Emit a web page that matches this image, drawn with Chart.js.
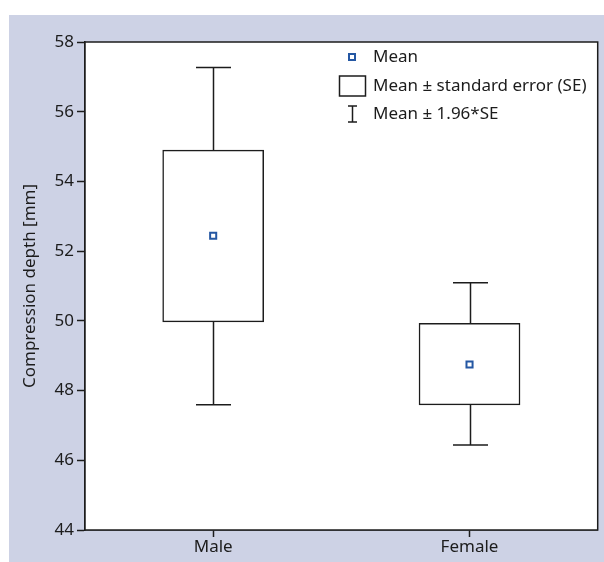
<!DOCTYPE html>
<html>
<head>
<meta charset="utf-8">
<script src="https://cdn.jsdelivr.net/npm/chart.js@4"></script>
<style>
  html, body { margin: 0; padding: 0; background: #ffffff; }
  #wrap {
    position: absolute; left: 9px; top: 15px;
    width: 595px; height: 547px;
    background: #cdd2e5;
  }
</style>
</head>
<body>
<div id="wrap"><canvas id="chart" width="595" height="547"></canvas></div>
<script>
// groups and summary values
const categories = ['Male', 'Female'];
const means = [52.44, 48.75];
const seLow = [49.97, 47.59];
const seHigh = [54.90, 49.93];
const ciLow = [47.59, 46.44];
const ciHigh = [57.27, 51.09];
const yMin = 44, yMax = 58, yStep = 2;

const legendLabels = ['Mean', 'Mean \u00b1 standard error (SE)', 'Mean \u00b1 1.96*SE'];

const FONT = '"Noto Sans", "Open Sans", sans-serif';
const INK = '#1c1c1c';
const MEAN_BLUE = '#2457a3';

// white plot area with a full frame
const frame = {
    id: 'frame',
    beforeDatasetsDraw(chart) {
        const { ctx, chartArea: a } = chart;
        ctx.save();
        ctx.fillStyle = '#ffffff';
        ctx.fillRect(a.left, a.top, a.right - a.left, a.bottom - a.top);
        ctx.restore();
    },
    afterDatasetsDraw(chart) {
        const { ctx, chartArea: a } = chart;
        ctx.save();
        ctx.strokeStyle = INK;
        ctx.lineWidth = 1.5;
        ctx.strokeRect(a.left, a.top, a.right - a.left, a.bottom - a.top);
        ctx.restore();
    }
};

// 1.96*SE whiskers, drawn through the scales
const whiskers = {
    id: 'whiskers',
    afterDatasetsDraw(chart) {
        const { ctx, scales: { x, y } } = chart;
        const cap = 35;
        ctx.save();
        ctx.strokeStyle = INK;
        ctx.lineWidth = 1.5;
        categories.forEach((c, i) => {
            const px = Math.round(x.getPixelForValue(i)) + 0.5;
            [[seHigh[i], ciHigh[i]], [seLow[i], ciLow[i]]].forEach(([from, to]) => {
                const y0 = y.getPixelForValue(from);
                const y1 = y.getPixelForValue(to);
                ctx.beginPath();
                ctx.moveTo(px, y0);
                ctx.lineTo(px, y1);
                ctx.moveTo(px - cap / 2, y1);
                ctx.lineTo(px + cap / 2, y1);
                ctx.stroke();
            });
        });
        ctx.restore();
    }
};

// hand-made legend in the upper part of the plot
const keyBox = {
    id: 'keyBox',
    afterDraw(chart) {
        const { ctx } = chart;
        const cx = 343, tx = 364;
        const rows = [42, 71, 99];
        ctx.save();
        ctx.font = '17px ' + FONT;
        ctx.fillStyle = INK;
        ctx.textBaseline = 'middle';
        legendLabels.forEach((t, i) => ctx.fillText(t, tx, rows[i]));

        // mean marker
        ctx.strokeStyle = MEAN_BLUE;
        ctx.lineWidth = 2;
        ctx.strokeRect(cx - 3, rows[0] - 3, 6, 6);

        // box
        ctx.strokeStyle = INK;
        ctx.lineWidth = 1.5;
        ctx.strokeRect(cx - 12.5, rows[1] - 10, 26, 20);

        // I bar
        ctx.beginPath();
        ctx.moveTo(cx + 0.5, rows[2] - 8);
        ctx.lineTo(cx + 0.5, rows[2] + 8);
        ctx.moveTo(cx - 4, rows[2] - 8);
        ctx.lineTo(cx + 5, rows[2] - 8);
        ctx.moveTo(cx - 4, rows[2] + 8);
        ctx.lineTo(cx + 5, rows[2] + 8);
        ctx.stroke();
        ctx.restore();
    }
};

new Chart(document.getElementById('chart'), {
    type: 'bar',
    data: {
        labels: categories,
        datasets: [
            {
                label: 'Mean',
                type: 'line',
                data: means,
                showLine: false,
                pointStyle: 'rect',
                pointRadius: 4.3,
                pointBorderWidth: 2,
                pointBorderColor: MEAN_BLUE,
                pointBackgroundColor: '#ffffff',
                order: 0
            },
            {
                label: 'Mean \u00b1 SE',
                data: categories.map((c, i) => [seLow[i], seHigh[i]]),
                backgroundColor: '#ffffff',
                borderColor: INK,
                borderWidth: 1.5,
                borderSkipped: false,
                barThickness: 101,
                order: 1
            }
        ]
    },
    options: {
        responsive: false,
        animation: false,
        events: [],
        layout: { padding: { top: 27, right: 5, left: 0, bottom: 0 } },
        plugins: { legend: { display: false }, tooltip: { enabled: false } },
        scales: {
            x: {
                offset: true,
                grid: {
                    offset: false,
                    drawOnChartArea: false,
                    drawTicks: true,
                    tickLength: 7,
                    tickWidth: 1.5,
                    color: INK
                },
                border: { display: true, color: INK, width: 1.5 },
                ticks: { color: INK, font: { family: FONT, size: 17 }, padding: 0 },
                afterFit(s) { s.height = 32; }
            },
            y: {
                min: yMin,
                max: yMax,
                ticks: {
                    stepSize: yStep,
                    color: INK,
                    font: { family: FONT, size: 17 },
                    padding: 3
                },
                grid: {
                    drawOnChartArea: false,
                    drawTicks: true,
                    tickLength: 8,
                    tickWidth: 1.5,
                    color: INK
                },
                border: { display: true, color: INK, width: 1.5 },
                title: {
                    display: true,
                    text: 'Compression depth [mm]',
                    color: INK,
                    font: { family: FONT, size: 17 },
                    padding: { top: 11, bottom: 0 }
                },
                afterFit(s) { s.width = 76; }
            }
        }
    },
    plugins: [frame, whiskers, keyBox]
});
</script>
</body>
</html>
